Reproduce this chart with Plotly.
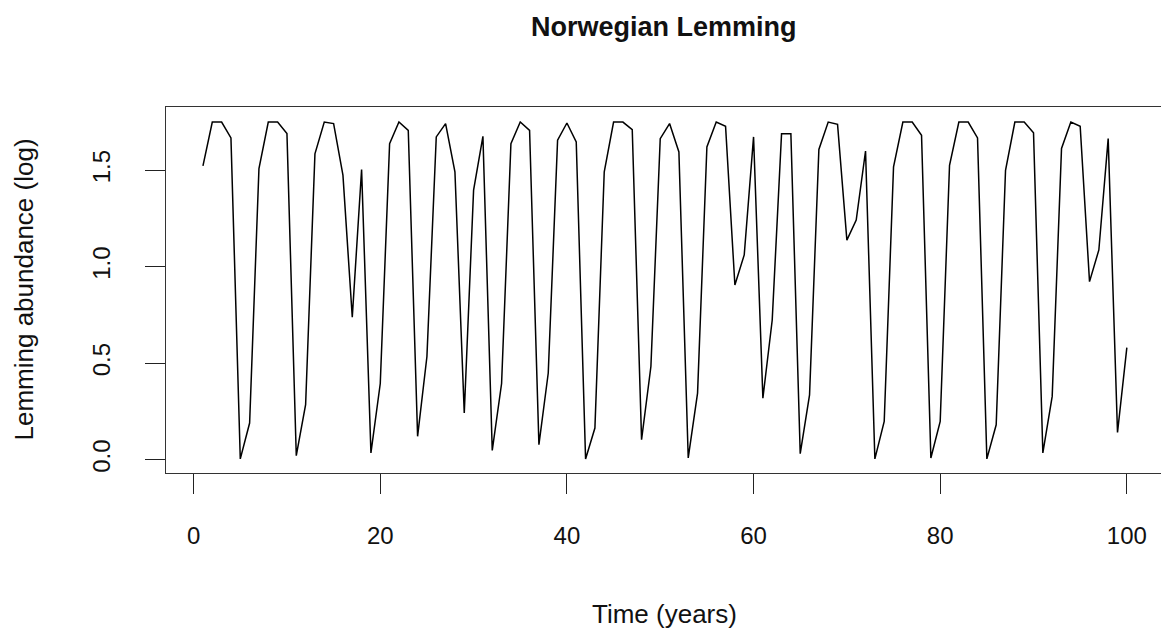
import plotly.graph_objects as go

# ---- data ----
years = list(range(1, 101))
abundance = [
    1.523, 1.750, 1.750, 1.668, 0.004, 0.190, 1.509, 1.750, 1.750, 1.690,
    0.021, 0.285, 1.585, 1.750, 1.742, 1.475, 0.738, 1.504, 0.035, 0.395,
    1.638, 1.750, 1.707, 0.121, 0.535, 1.673, 1.742, 1.492, 0.242, 1.397,
    1.676, 0.048, 0.395, 1.638, 1.750, 1.707, 0.078, 0.449, 1.656, 1.745,
    1.647, 0.004, 0.164, 1.492, 1.750, 1.750, 1.711, 0.104, 0.483, 1.664,
    1.742, 1.595, 0.009, 0.345, 1.621, 1.750, 1.728, 0.905, 1.061, 1.673,
    0.319, 0.724, 1.690, 1.690, 0.031, 0.336, 1.608, 1.750, 1.738, 1.138,
    1.242, 1.600, 0.004, 0.198, 1.518, 1.750, 1.750, 1.681, 0.009, 0.198,
    1.526, 1.750, 1.750, 1.668, 0.004, 0.181, 1.500, 1.750, 1.750, 1.694,
    0.035, 0.328, 1.613, 1.750, 1.728, 0.923, 1.087, 1.664, 0.141, 0.581,
]
x_tick_values = [0, 20, 40, 60, 80, 100]
x_tick_labels = ["0", "20", "40", "60", "80", "100"]
y_tick_values = [0.0, 0.5, 1.0, 1.5]
y_tick_labels = ["0.0", "0.5", "1.0", "1.5"]

title_text = "Norwegian Lemming"
x_title = "Time (years)"
y_title = "Lemming abundance (log)"

FONT = "Liberation Sans, Arial, Helvetica, sans-serif"

fig = go.Figure(
    go.Scatter(
        x=years,
        y=abundance,
        mode="lines",
        line=dict(color="black", width=1.5),
        hoverinfo="x+y",
    )
)

fig.update_layout(
    width=1161,
    height=634,
    margin=dict(l=166, r=0, t=107, b=161),
    plot_bgcolor="white",
    paper_bgcolor="white",
    showlegend=False,
    font=dict(family=FONT, color="black"),
)

fig.update_xaxes(
    range=[-2.96, 103.66],
    tickvals=x_tick_values,
    ticktext=x_tick_labels,
    ticks="outside",
    ticklen=20,
    tickwidth=1.3,
    tickcolor="#222222",
    showline=True,
    linecolor="#333333",
    linewidth=1.3,
    mirror=True,
    showgrid=False,
    zeroline=False,
    tickfont=dict(size=24, family=FONT, color="#111111"),
    ticklabelstandoff=21,
)

fig.update_yaxes(
    range=[-0.069, 1.828],
    tickvals=y_tick_values,
    ticktext=y_tick_labels,
    ticks="outside",
    ticklen=20,
    tickwidth=1.3,
    tickcolor="#222222",
    showline=True,
    linecolor="#333333",
    linewidth=1.3,
    mirror=False,
    showgrid=False,
    zeroline=False,
    tickangle=-90,
    tickfont=dict(size=24, family=FONT, color="#111111"),
    ticklabelstandoff=25,
)

fig.add_annotation(
    text="<b>" + title_text + "</b>",
    xref="paper", yref="paper",
    x=0.501, y=1.218,
    xanchor="center", yanchor="middle",
    showarrow=False,
    font=dict(size=27, family=FONT, color="#111111"),
)
fig.add_annotation(
    text=x_title,
    xref="paper", yref="paper",
    x=0.501, y=-0.385,
    xanchor="center", yanchor="middle",
    showarrow=False,
    font=dict(size=26, family=FONT, color="#111111"),
)
fig.add_annotation(
    text=y_title,
    xref="paper", yref="paper",
    x=-0.1432, y=0.5,
    xanchor="center", yanchor="middle",
    textangle=-90,
    showarrow=False,
    font=dict(size=26, family=FONT, color="#111111"),
)

fig.write_html("out.html")
